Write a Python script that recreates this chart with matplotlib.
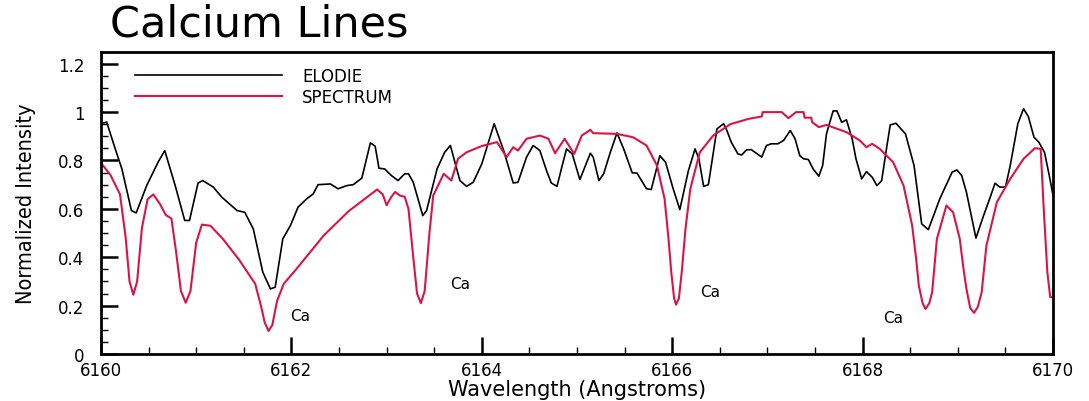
"""Calcium lines: observed ELODIE spectrum vs synthetic spectrum."""
import matplotlib
matplotlib.use("Agg")
import matplotlib.pyplot as plt
from matplotlib import font_manager
from matplotlib.ticker import MultipleLocator

elodie_wl = [
    6160.00, 6160.06, 6160.15, 6160.22, 6160.32, 6160.37, 6160.48, 6160.60, 6160.67, 6160.78,
    6160.88, 6160.93, 6161.02, 6161.07, 6161.18, 6161.27, 6161.43, 6161.51, 6161.60, 6161.70,
    6161.78, 6161.83, 6161.91, 6161.99, 6162.07, 6162.16, 6162.23, 6162.28, 6162.41, 6162.49,
    6162.58, 6162.65, 6162.74, 6162.83, 6162.88, 6162.92, 6162.98, 6163.05, 6163.12, 6163.19,
    6163.23, 6163.28, 6163.38, 6163.42, 6163.53, 6163.61, 6163.67, 6163.77, 6163.84, 6163.91,
    6164.00, 6164.13, 6164.23, 6164.33, 6164.38, 6164.47, 6164.54, 6164.61, 6164.68, 6164.73,
    6164.79, 6164.84, 6164.89, 6164.95, 6165.03, 6165.14, 6165.17, 6165.23, 6165.28, 6165.35,
    6165.42, 6165.49, 6165.56, 6165.58, 6165.63, 6165.73, 6165.78, 6165.87, 6165.93, 6166.01,
    6166.08, 6166.17, 6166.24, 6166.28, 6166.33, 6166.38, 6166.47, 6166.54, 6166.57, 6166.62,
    6166.69, 6166.73, 6166.78, 6166.83, 6166.94, 6166.99, 6167.04, 6167.11, 6167.17, 6167.24,
    6167.29, 6167.34, 6167.38, 6167.43, 6167.48, 6167.54, 6167.58, 6167.62, 6167.69, 6167.73,
    6167.78, 6167.83, 6167.89, 6167.93, 6167.99, 6168.04, 6168.10, 6168.15, 6168.20, 6168.25,
    6168.29, 6168.35, 6168.45, 6168.54, 6168.62, 6168.69, 6168.81, 6168.94, 6168.99, 6169.04,
    6169.09, 6169.19, 6169.27, 6169.34, 6169.39, 6169.44, 6169.50, 6169.55, 6169.63, 6169.69,
    6169.74, 6169.80, 6169.85, 6169.91, 6169.96, 6170.00,
]
elodie_flux = [
    0.952, 0.959, 0.848, 0.765, 0.593, 0.583, 0.696, 0.793, 0.841, 0.696,
    0.552, 0.552, 0.707, 0.717, 0.690, 0.648, 0.593, 0.586, 0.517, 0.338,
    0.269, 0.276, 0.476, 0.531, 0.607, 0.641, 0.662, 0.700, 0.703, 0.683,
    0.696, 0.700, 0.727, 0.873, 0.859, 0.768, 0.765, 0.738, 0.717, 0.745,
    0.745, 0.710, 0.572, 0.593, 0.765, 0.834, 0.862, 0.717, 0.693, 0.710,
    0.786, 0.952, 0.841, 0.707, 0.710, 0.814, 0.862, 0.841, 0.758, 0.707,
    0.693, 0.772, 0.848, 0.827, 0.721, 0.830, 0.814, 0.717, 0.745, 0.834,
    0.914, 0.848, 0.772, 0.749, 0.748, 0.683, 0.680, 0.820, 0.793, 0.683,
    0.597, 0.758, 0.848, 0.807, 0.693, 0.700, 0.931, 0.952, 0.928, 0.876,
    0.827, 0.823, 0.844, 0.845, 0.814, 0.862, 0.869, 0.869, 0.883, 0.924,
    0.890, 0.820, 0.807, 0.804, 0.765, 0.735, 0.779, 0.910, 1.005, 1.005,
    0.958, 0.968, 0.890, 0.807, 0.724, 0.754, 0.731, 0.696, 0.717, 0.848,
    0.947, 0.954, 0.910, 0.779, 0.538, 0.514, 0.641, 0.752, 0.761, 0.738,
    0.669, 0.479, 0.572, 0.648, 0.706, 0.690, 0.690, 0.779, 0.952, 1.014,
    0.982, 0.896, 0.876, 0.834, 0.738, 0.655,
]

# synthetic spectrum
synth_wl = [
    6160.00, 6160.10, 6160.20, 6160.26, 6160.30, 6160.34, 6160.38, 6160.43, 6160.49, 6160.55,
    6160.62, 6160.68, 6160.74, 6160.79, 6160.84, 6160.89, 6160.94, 6161.00, 6161.06, 6161.15,
    6161.28, 6161.45, 6161.62, 6161.68, 6161.72, 6161.76, 6161.80, 6161.85, 6161.92, 6162.05,
    6162.34, 6162.60, 6162.90, 6162.96, 6163.00, 6163.05, 6163.09, 6163.14, 6163.19, 6163.23,
    6163.28, 6163.32, 6163.36, 6163.40, 6163.45, 6163.49, 6163.60, 6163.68, 6163.75, 6163.84,
    6164.00, 6164.16, 6164.26, 6164.33, 6164.38, 6164.47, 6164.61, 6164.70, 6164.77, 6164.87,
    6164.97, 6165.05, 6165.14, 6165.17, 6165.42, 6165.59, 6165.73, 6165.84, 6165.92, 6165.96,
    6165.99, 6166.02, 6166.04, 6166.07, 6166.10, 6166.14, 6166.19, 6166.29, 6166.43, 6166.61,
    6166.80, 6166.94, 6166.95, 6167.15, 6167.22, 6167.30, 6167.38, 6167.39, 6167.46, 6167.47,
    6167.54, 6167.62, 6167.83, 6167.97, 6168.04, 6168.10, 6168.18, 6168.32, 6168.43, 6168.52,
    6168.56, 6168.59, 6168.63, 6168.66, 6168.70, 6168.73, 6168.78, 6168.88, 6168.95, 6169.02,
    6169.06, 6169.09, 6169.13, 6169.17, 6169.21, 6169.25, 6169.30, 6169.41, 6169.55, 6169.69,
    6169.81, 6169.87, 6169.90, 6169.94, 6169.97, 6170.00,
]
synth_flux = [
    0.790, 0.740, 0.660, 0.480, 0.300, 0.245, 0.300, 0.520, 0.640, 0.660,
    0.620, 0.575, 0.560, 0.420, 0.260, 0.212, 0.260, 0.460, 0.535, 0.530,
    0.476, 0.390, 0.290, 0.200, 0.130, 0.095, 0.120, 0.220, 0.290, 0.350,
    0.490, 0.590, 0.680, 0.660, 0.615, 0.650, 0.670, 0.655, 0.650, 0.600,
    0.400, 0.250, 0.210, 0.260, 0.500, 0.655, 0.745, 0.717, 0.807, 0.834,
    0.860, 0.876, 0.814, 0.855, 0.841, 0.890, 0.903, 0.890, 0.830, 0.890,
    0.827, 0.903, 0.927, 0.913, 0.910, 0.896, 0.862, 0.779, 0.641, 0.480,
    0.338, 0.230, 0.204, 0.230, 0.338, 0.520, 0.683, 0.834, 0.903, 0.950,
    0.972, 0.982, 1.000, 1.000, 0.975, 1.000, 1.000, 0.977, 0.977, 0.958,
    0.938, 0.947, 0.917, 0.883, 0.855, 0.869, 0.848, 0.793, 0.696, 0.531,
    0.400, 0.283, 0.210, 0.186, 0.210, 0.255, 0.476, 0.614, 0.586, 0.476,
    0.350, 0.269, 0.190, 0.170, 0.195, 0.255, 0.448, 0.628, 0.724, 0.807,
    0.851, 0.848, 0.614, 0.338, 0.235, 0.235,
]

# "Ca" annotations (x, y in data units)
ca_x = [6161.99, 6163.67, 6166.29, 6168.22]
ca_y = [0.158, 0.292, 0.260, 0.152]

RED = "#dc1446"
WIDE = ["DejaVu Sans"]


def narrow_font(size):
    """Return a condensed font for the y label if one is installed."""
    for f in font_manager.fontManager.ttflist:
        name = f.name.lower()
        if ("narrow" in name or "condensed" in name or f.stretch == "condensed") \
                and f.weight in (400, "normal", "regular") and f.style == "normal":
            return font_manager.FontProperties(fname=f.fname, size=size)
    return font_manager.FontProperties(family="Liberation Sans", size=size - 2.5)


def main():
    plt.rcParams["font.family"] = WIDE
    fig = plt.figure(figsize=(10.89, 4.02), dpi=100)
    ax = fig.add_axes([0.0927, 0.117, 0.8743, 0.752])

    ax.plot(elodie_wl, elodie_flux, color="black", lw=1.2, label="ELODIE")
    ax.plot(synth_wl, synth_flux, color=RED, lw=1.5, label="SPECTRUM")

    for x, y in zip(ca_x, ca_y):
        ax.text(x, y, "Ca", fontsize=11, va="center", ha="left")

    ax.set_xlim(6160, 6170)
    ax.set_ylim(0, 1.25)
    ax.xaxis.set_major_locator(MultipleLocator(2))
    ax.xaxis.set_minor_locator(MultipleLocator(0.5))
    ax.yaxis.set_major_locator(MultipleLocator(0.2))
    ax.yaxis.set_minor_locator(MultipleLocator(0.05))
    ax.set_yticks([0, 0.2, 0.4, 0.6, 0.8, 1.0, 1.2])
    ax.set_yticklabels(["0", "0.2", "0.4", "0.6", "0.8", "1", "1.2"])
    ax.tick_params(which="major", direction="in", length=12, width=1.8,
                   labelsize=12, pad=12)
    ax.tick_params(which="minor", direction="in", length=5, width=1.0)
    ax.tick_params(axis="x", which="major", pad=5)
    for side in ax.spines.values():
        side.set_linewidth(2)

    ax.set_xlabel("Wavelength (Angstroms)", fontsize=15, labelpad=0)
    ax.set_ylabel("Normalized Intensity", fontproperties=narrow_font(15.5),
                  labelpad=16)
    fig.text(0.101, 0.9104, "Calcium Lines", fontsize=31, ha="left",
             va="baseline")

    ax.legend(loc="upper left", bbox_to_anchor=(0.036, 0.95), frameon=False,
              fontsize=12, handlelength=8.8, handletextpad=1.2,
              labelspacing=0.2, borderpad=0, borderaxespad=0)

    fig.savefig("out.png", dpi=100)
    plt.close(fig)


if __name__ == "__main__":
    main()
